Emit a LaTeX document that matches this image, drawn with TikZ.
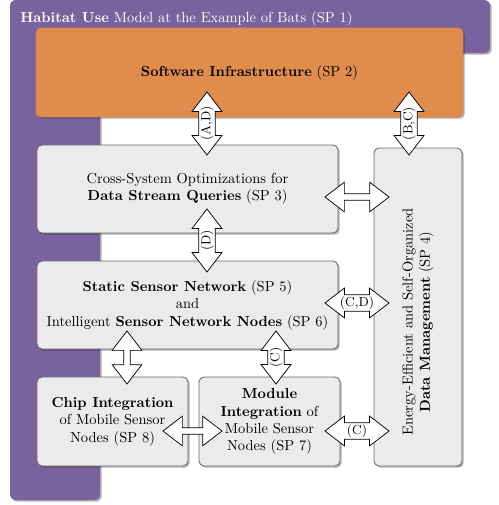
\documentclass[tikz,border=0pt]{standalone}
\usetikzlibrary{shapes.arrows,shadows}
\definecolor{batpurple}{RGB}{121,99,159}
\definecolor{sporange}{RGB}{224,140,76}
\definecolor{sporangeline}{RGB}{214,132,70}
\definecolor{boxgray}{RGB}{235,235,235}
\definecolor{boxline}{RGB}{105,105,105}
\tikzset{
  softshadow/.style={drop shadow={shadow xshift=1.2pt, shadow yshift=-1.2pt, fill=black, opacity=0.3}},
  spbox/.style={rectangle, rounded corners=3.5pt, fill=boxgray, draw=boxline, line width=0.6pt,
    align=center, inner sep=2pt, softshadow},
  dblarrow/.style={double arrow, draw=black, fill=white, line width=0.5pt,
    double arrow head extend=4.6pt, double arrow tip angle=75,
    minimum width=20.5pt, inner sep=1pt, font=\small},
}
\begin{document}
\begin{tikzpicture}[x=0.69pt,y=-0.69pt]
\useasboundingbox (0,0) rectangle (499,505);
% purple L-shaped background (SP 1)
\path[fill=batpurple, rounded corners=4pt, softshadow]
  (10,500) -- (10,0) -- (490,0) -- (490,53) -- (100,53) -- (100,500) -- cycle;
\node[anchor=base west, text=white, inner sep=0pt] (sp1) at (20,22)
  {\textbf{Habitat Use} Model at the Example of Bats (SP 1)};
% boxes
\node[rectangle, rounded corners=3.5pt, fill=sporange, draw=sporangeline, line width=0.6pt,
  softshadow, minimum width={427*0.69pt}, minimum height={89*0.69pt}] (sp2) at (249.5,72.5)
  {\textbf{Software Infrastructure} (SP 2)};
\node[spbox, minimum width={301*0.69pt}, minimum height={88*0.69pt}] (sp3) at (187.5,189)
  {Cross-System Optimizations for\\ \textbf{Data Stream Queries} (SP 3)};
\node[spbox, minimum width={88*0.69pt}, minimum height={318*0.69pt}] (sp4) at (418,307) {};
\node[rotate=90, align=center, inner sep=0pt] (sp4text) at (418,322)
  {Energy-Efficient and Self-Organized\\ \textbf{Data Management} (SP 4)};
\node[spbox, minimum width={301*0.69pt}, minimum height={88*0.69pt}] (sp56) at (187.5,305)
  {\textbf{Static Sensor Network} (SP 5)\\ and\\ Intelligent \textbf{Sensor Network Nodes} (SP 6)};
\node[spbox, minimum width={151*0.69pt}, minimum height={89*0.69pt}] (sp8) at (112.5,421.5)
  {\textbf{Chip Integration}\\ of Mobile Sensor\\ Nodes (SP 8)};
\node[spbox, minimum width={141*0.69pt}, minimum height={89*0.69pt}] (sp7) at (269.5,421.5)
  {\textbf{Module}\\ \textbf{Integration} of\\ Mobile Sensor\\ Nodes (SP 7)};
% double arrows
\node[dblarrow, rotate=90, minimum height={63*0.69pt}] (a1) at (207,123.5) {(A,D)};
\node[dblarrow, rotate=90, minimum height={63*0.69pt}] (a2) at (409,123.5) {(B,C)};
\node[dblarrow, minimum height={64*0.69pt}] (a3) at (357,197) {};
\node[dblarrow, rotate=90, minimum height={63*0.69pt}] (a4) at (207,240.5) {(D)};
\node[dblarrow, minimum height={64*0.69pt}] (a5) at (357,303) {(C,D)};
\node[dblarrow, rotate=90, minimum height={53*0.69pt}] (a6) at (127,357.5) {};
\node[dblarrow, rotate=90, minimum height={53*0.69pt}] (a7) at (276,357.5) {(C)};
\node[dblarrow, minimum height={59*0.69pt}] (a8) at (192.5,431) {};
\node[dblarrow, minimum height={64*0.69pt}] (a9) at (357,431) {(C)};
\end{tikzpicture}
\end{document}
